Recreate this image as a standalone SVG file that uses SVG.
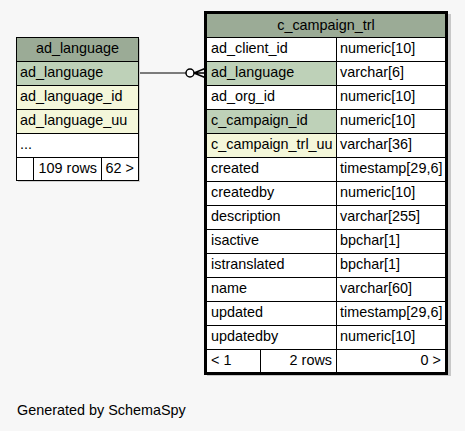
<svg xmlns="http://www.w3.org/2000/svg" width="465" height="431" viewBox="0 0 465 431">
<style>
text{font-family:"Liberation Sans",Arial,sans-serif;font-size:14.4px;fill:#000}
.c{text-anchor:middle}
.r{text-anchor:end}
.hd{fill:#9bab96;stroke:#000;stroke-width:1}
.pk{fill:#bed1b8;stroke:#000;stroke-width:1}
.ix{fill:#f4f7da;stroke:#000;stroke-width:1}
.pl{fill:#fff;stroke:#000;stroke-width:1}
.ln{stroke:#000;stroke-width:1;fill:none}
</style>
<rect x="0" y="0" width="465" height="431" fill="#f7f7f7"/>
<g id="connectors">
<line class="ln" x1="139" y1="73" x2="186" y2="73"/>
<circle cx="190" cy="73" r="4" fill="#fff" stroke="#000" stroke-width="1.5"/>
<path d="M194 73 L205 68.5 M194 73 L205 73 M194 73 L205 77.5" stroke="#000" stroke-width="1.5" fill="none"/>
</g>
<g id="ad_language">
<rect x="18" y="39" width="122" height="143" fill="#d0d0d0"/>
<rect class="hd" x="16.5" y="37.5" width="122" height="24"/>
<text class="c" x="77.5" y="53">ad_language</text>
<rect class="pk" x="16.5" y="61.5" width="122" height="24"/>
<text x="20" y="77">ad_language</text>
<rect class="ix" x="16.5" y="85.5" width="122" height="24"/>
<text x="20" y="101">ad_language_id</text>
<rect class="ix" x="16.5" y="109.5" width="122" height="24"/>
<text x="20" y="125">ad_language_uu</text>
<rect class="pl" x="16.5" y="133.5" width="122" height="24"/>
<text x="20" y="149">...</text>
<rect class="pl" x="16.5" y="157.5" width="17" height="23"/>
<rect class="pl" x="33.5" y="157.5" width="68" height="23"/>
<rect class="pl" x="101.5" y="157.5" width="37" height="23"/>
<text class="r" x="97" y="173">109 rows</text>
<text class="r" x="134" y="173">62 &gt;</text>
</g>
<g id="c_campaign_trl">
<rect x="207" y="14" width="244" height="362" fill="#c8c8c8"/>
<rect class="hd" x="206.5" y="13.5" width="239" height="24"/>
<text class="c" x="326" y="30">c_campaign_trl</text>
<rect class="pl" x="206.5" y="37.5" width="130" height="24"/><rect class="pl" x="336.5" y="37.5" width="109" height="24"/>
<text x="211" y="53">ad_client_id</text><text x="340" y="53">numeric[10]</text>
<rect class="pk" x="206.5" y="61.5" width="130" height="24"/><rect class="pl" x="336.5" y="61.5" width="109" height="24"/>
<text x="211" y="77">ad_language</text><text x="340" y="77">varchar[6]</text>
<rect class="pl" x="206.5" y="85.5" width="130" height="24"/><rect class="pl" x="336.5" y="85.5" width="109" height="24"/>
<text x="211" y="101">ad_org_id</text><text x="340" y="101">numeric[10]</text>
<rect class="pk" x="206.5" y="109.5" width="130" height="24"/><rect class="pl" x="336.5" y="109.5" width="109" height="24"/>
<text x="211" y="125">c_campaign_id</text><text x="340" y="125">numeric[10]</text>
<rect class="ix" x="206.5" y="133.5" width="130" height="24"/><rect class="pl" x="336.5" y="133.5" width="109" height="24"/>
<text x="211" y="149">c_campaign_trl_uu</text><text x="340" y="149">varchar[36]</text>
<rect class="pl" x="206.5" y="157.5" width="130" height="24"/><rect class="pl" x="336.5" y="157.5" width="109" height="24"/>
<text x="211" y="173">created</text><text x="340" y="173">timestamp[29,6]</text>
<rect class="pl" x="206.5" y="181.5" width="130" height="24"/><rect class="pl" x="336.5" y="181.5" width="109" height="24"/>
<text x="211" y="197">createdby</text><text x="340" y="197">numeric[10]</text>
<rect class="pl" x="206.5" y="205.5" width="130" height="24"/><rect class="pl" x="336.5" y="205.5" width="109" height="24"/>
<text x="211" y="221">description</text><text x="340" y="221">varchar[255]</text>
<rect class="pl" x="206.5" y="229.5" width="130" height="24"/><rect class="pl" x="336.5" y="229.5" width="109" height="24"/>
<text x="211" y="245">isactive</text><text x="340" y="245">bpchar[1]</text>
<rect class="pl" x="206.5" y="253.5" width="130" height="24"/><rect class="pl" x="336.5" y="253.5" width="109" height="24"/>
<text x="211" y="269">istranslated</text><text x="340" y="269">bpchar[1]</text>
<rect class="pl" x="206.5" y="277.5" width="130" height="24"/><rect class="pl" x="336.5" y="277.5" width="109" height="24"/>
<text x="211" y="293">name</text><text x="340" y="293">varchar[60]</text>
<rect class="pl" x="206.5" y="301.5" width="130" height="24"/><rect class="pl" x="336.5" y="301.5" width="109" height="24"/>
<text x="211" y="317">updated</text><text x="340" y="317">timestamp[29,6]</text>
<rect class="pl" x="206.5" y="325.5" width="130" height="24"/><rect class="pl" x="336.5" y="325.5" width="109" height="24"/>
<text x="211" y="341">updatedby</text><text x="340" y="341">numeric[10]</text>
<rect class="pl" x="206.5" y="349.5" width="54" height="23"/><rect class="pl" x="260.5" y="349.5" width="76" height="23"/><rect class="pl" x="336.5" y="349.5" width="109" height="23"/>
<text x="211" y="365">&lt; 1</text>
<text class="r" x="332" y="365">2 rows</text>
<text class="r" x="441" y="365">0 &gt;</text>
<rect x="205.5" y="12.5" width="241" height="361" fill="none" stroke="#000" stroke-width="3"/>
</g>
<text x="17" y="415">Generated by SchemaSpy</text>
</svg>
